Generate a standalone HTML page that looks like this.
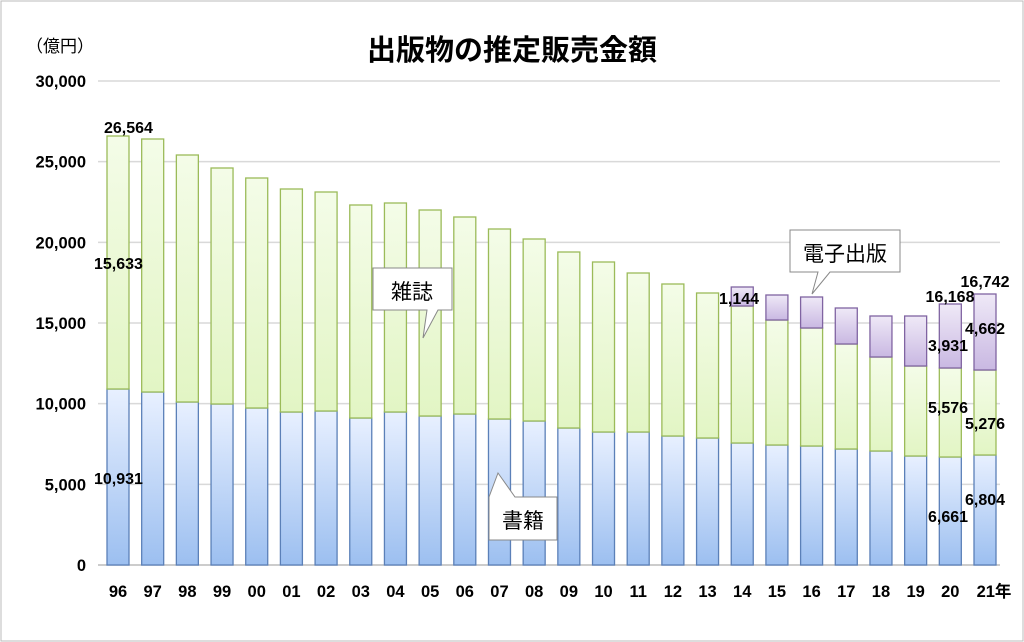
<!DOCTYPE html>
<html><head><meta charset="utf-8"><style>
html,body{margin:0;padding:0;background:#fff}
svg{display:block}
text{font-family:"Liberation Sans","Noto Sans CJK JP",sans-serif}
</style></head><body>
<svg id="s" width="1024" height="642" xmlns="http://www.w3.org/2000/svg">
<defs>
<linearGradient id="gb" x1="0" y1="0" x2="0" y2="1"><stop offset="0" stop-color="#e8f0ff"/><stop offset="1" stop-color="#9cbff0"/></linearGradient>
<linearGradient id="gm" x1="0" y1="0" x2="0" y2="1"><stop offset="0" stop-color="#f4fce8"/><stop offset="1" stop-color="#e2f5c4"/></linearGradient>
<linearGradient id="ge" x1="0" y1="0" x2="0" y2="1"><stop offset="0" stop-color="#efe9f7"/><stop offset="1" stop-color="#c9b8e2"/></linearGradient>
</defs>
<rect x="1" y="1" width="1022" height="640" fill="#fff" stroke="#bbb" stroke-width="1"/>
<text x="512" y="60" text-anchor="middle" font-size="29" font-weight="bold">出版物の推定販売金額</text>
<text x="26" y="52" font-size="17">（億円）</text>
<g id="grid"></g><g id="bars"></g><g id="lab"></g>
</svg>
<script>
var s=document.getElementById('s'),ns='http://www.w3.org/2000/svg';
function el(t,a,txt,p){var e=document.createElementNS(ns,t);for(var k in a)e.setAttribute(k,a[k]);if(txt!=null)e.textContent=txt;(p||s).appendChild(e);return e;}
var g=document.getElementById('grid'),b=document.getElementById('bars'),l=document.getElementById('lab');
var ticks=['0','5,000','10,000','15,000','20,000','25,000','30,000'];
for(var i=0;i<7;i++){var y=565-i*80.67;
 if(i>0)el('line',{x1:98,x2:1000,y1:y,y2:y,stroke:'#d9d9d9','stroke-width':1.5},null,g);
 el('text',{x:86,y:y+6,'text-anchor':'end','font-size':16.5,'font-weight':'bold'},ticks[i],l);}
el('line',{x1:98,x2:1000,y1:565,y2:565,stroke:'#bbb','stroke-width':1.5},null,g);
var yrs=['96','97','98','99','00','01','02','03','04','05','06','07','08','09','10','11','12','13','14','15','16','17','18','19','20','21年'];
var tops=[136,139,155,168,178,189,192,205,203,210,217,229,239,252,262,273,284,293,306,320,328,344,357,366,368,370];
var bk=[389,392,402,404,408,412,411,418,412,416,414,419,421,428,432,432,436,438,443,445,446,449,451,456,457,455];
var et={18:287,19:295,20:297,21:308,22:316,23:316,24:304,25:294};
for(var i=0;i<26;i++){var cx=118+34.68*i,x=cx-11;
 el('rect',{x:x,y:bk[i],width:22,height:565-bk[i],fill:'url(#gb)',stroke:'#5b80b8','stroke-width':1.3},null,b);
 el('rect',{x:x,y:tops[i],width:22,height:bk[i]-tops[i],fill:'url(#gm)',stroke:'#9bbb59','stroke-width':1.3},null,b);
 if(et[i])el('rect',{x:x,y:et[i],width:22,height:tops[i]-et[i],fill:'url(#ge)',stroke:'#8064a2','stroke-width':1.3},null,b);
 el('text',{x:i==25?cx+9:cx,y:597,'text-anchor':'middle','font-size':16.5,'font-weight':'bold'},yrs[i],l);}
var L=[[104,133,'26,564',0],[94,269,'15,633',0],[94,484,'10,931',0],[719,304,'1,144',0],[950,302,'16,168',1],[985,287,'16,742',1],[985,334,'4,662',1],[948,351,'3,931',1],[948,413,'5,576',1],[985,429,'5,276',1],[985,505,'6,804',1],[948,522,'6,661',1]];
L.forEach(function(a){el('text',{x:a[0],y:a[1],'text-anchor':a[3]?'middle':'start','font-size':16,'font-weight':'bold'},a[2],l);});
function call(pts,tx,ty,t){el('polygon',{points:pts,fill:'#fff',stroke:'#888','stroke-width':1},null,l);el('text',{x:tx,y:ty,'text-anchor':'middle','font-size':21},t,l);}
call('373,268 452,268 452,310 438,310 423,338 427,310 373,310',412,299,'雑誌');
call('489,497 498,473 515,497 557,497 557,540 489,540',523,528,'書籍');
call('790,230 900,230 900,272 830,272 812,294 818,272 790,272',845,261,'電子出版');
</script>
</body></html>
